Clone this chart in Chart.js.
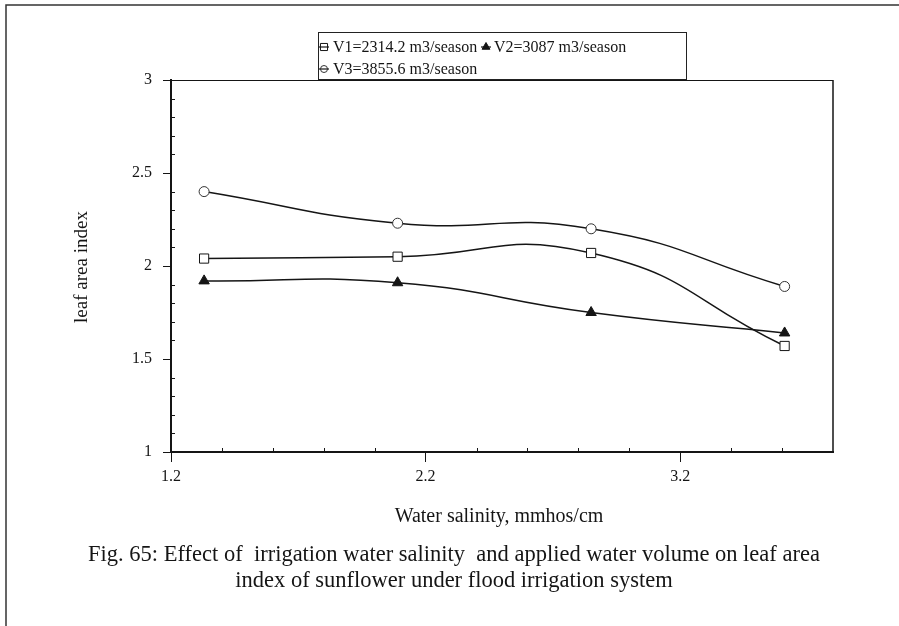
<!DOCTYPE html>
<html>
<head>
<meta charset="utf-8">
<title>Leaf area index vs water salinity</title>
<script src="https://cdn.jsdelivr.net/npm/chart.js@4.4.1/dist/chart.umd.min.js"></script>
<style>
  html, body { margin: 0; padding: 0; background: #fff; }
  canvas { display: block; }
</style>
</head>
<body>
<canvas id="laiChart" width="899" height="626"></canvas>
<script>
// Water salinity (mmhos/cm) and leaf area index per applied water volume
const salinity = [1.33, 2.09, 2.85, 3.61];
const laiV1 = [2.04, 2.05, 2.07, 1.57];
const laiV2 = [1.92, 1.91, 1.75, 1.64];
const laiV3 = [2.40, 2.23, 2.20, 1.89];
const seriesLabels = ['V1=2314.2 m3/season', 'V2=3087 m3/season', 'V3=3855.6 m3/season'];
const xTickValues = [1.2, 2.2, 3.2];
const yTickValues = [1, 1.5, 2, 2.5, 3];

const INK = '#151515';
const SERIF = '"Liberation Serif", "Times New Roman", serif';

function toPoints(ys) {
    return salinity.map((x, i) => ({ x: x, y: ys[i] }));
}

// frame, minor ticks, legend box, axis titles and caption
const figureText = {
    id: 'figureText',
    beforeDraw(chart) {
        const ctx = chart.ctx;
        ctx.save();
        ctx.fillStyle = '#fff';
        ctx.fillRect(0, 0, chart.width, chart.height);
        // page border (top and left)
        ctx.strokeStyle = '#333';
        ctx.lineWidth = 1.5;
        ctx.beginPath();
        ctx.moveTo(6, 626);
        ctx.lineTo(6, 5);
        ctx.lineTo(899, 5);
        ctx.stroke();
        ctx.restore();
    },
    afterDraw(chart) {
        const ctx = chart.ctx;
        const area = chart.chartArea;
        const xs = chart.scales.x;
        const ys = chart.scales.y;
        ctx.save();

        // top and right edges of the plot box
        ctx.strokeStyle = INK;
        ctx.lineWidth = 1;
        ctx.beginPath();
        ctx.moveTo(area.left, area.top + 0.5);
        ctx.lineTo(area.right, area.top + 0.5);
        ctx.stroke();
        ctx.lineWidth = 1.5;
        ctx.beginPath();
        ctx.moveTo(area.right, area.top);
        ctx.lineTo(area.right, area.bottom);
        ctx.stroke();

        // minor ticks pointing into the plot
        ctx.lineWidth = 1;
        ctx.beginPath();
        for (let i = 1; i < 13; i++) {
            if (i % 5 === 0) continue;
            const px = Math.round(xs.getPixelForValue(1.2 + i * 0.2)) + 0.5;
            ctx.moveTo(px, area.bottom);
            ctx.lineTo(px, area.bottom - 4);
        }
        for (let i = 1; i < 20; i++) {
            if (i % 5 === 0) continue;
            const py = Math.round(ys.getPixelForValue(1 + i * 0.1)) + 0.5;
            ctx.moveTo(area.left, py);
            ctx.lineTo(area.left + 4, py);
        }
        ctx.stroke();

        // legend box
        ctx.lineWidth = 1;
        ctx.strokeStyle = '#222';
        ctx.strokeRect(318.5, 32.5, 368, 47);
        const items = [
            { ds: 0, mx: 324, tx: 333, y: 47 },
            { ds: 1, mx: 486, tx: 494, y: 47 },
            { ds: 2, mx: 324, tx: 333, y: 69 }
        ];
        ctx.font = '16px ' + SERIF;
        ctx.textBaseline = 'middle';
        ctx.textAlign = 'left';
        items.forEach(it => {
            const ds = chart.data.datasets[it.ds];
            ctx.strokeStyle = INK;
            ctx.lineWidth = 1.2;
            ctx.beginPath();
            ctx.moveTo(it.mx - 5, it.y);
            ctx.lineTo(it.mx + 5, it.y);
            ctx.stroke();
            // hollow legend symbols let the line show through
            ctx.fillStyle = ds.pointStyle === 'triangle' ? INK : 'rgba(0,0,0,0)';
            ctx.strokeStyle = ds.pointBorderColor;
            ctx.lineWidth = 1;
            Chart.helpers.drawPoint(ctx, {
                pointStyle: ds.pointStyle,
                radius: ds.pointRadius - 1.5,
                rotation: 0,
                borderWidth: 1
            }, it.mx, it.y);
            ctx.fillStyle = INK;
            ctx.fillText(ds.label, it.tx, it.y + 1);
        });

        ctx.fillStyle = INK;
        ctx.textAlign = 'center';
        ctx.textBaseline = 'middle';

        // axis titles
        ctx.font = '20px ' + SERIF;
        ctx.fillText('Water salinity, mmhos/cm', 499, 517);
        ctx.save();
        ctx.translate(82, 267);
        ctx.rotate(-Math.PI / 2);
        ctx.font = '19px ' + SERIF;
        ctx.fillText('leaf area index', 0, 0);
        ctx.restore();

        // figure caption
        ctx.font = '22.5px ' + SERIF;
        ctx.fillText('Fig. 65: Effect of  irrigation water salinity  and applied water volume on leaf area', 454, 555);
        ctx.fillText('index of sunflower under flood irrigation system', 454, 581);

        ctx.restore();
    }
};

new Chart(document.getElementById('laiChart'), {
    type: 'line',
    data: {
        datasets: [
            {
                label: seriesLabels[0],
                data: toPoints(laiV1),
                pointStyle: 'rect',
                pointRadius: 6.5,
                pointBackgroundColor: '#fff',
                pointBorderColor: INK
            },
            {
                label: seriesLabels[1],
                data: toPoints(laiV2),
                pointStyle: 'triangle',
                pointRadius: 6,
                pointBackgroundColor: INK,
                pointBorderColor: INK
            },
            {
                label: seriesLabels[2],
                data: toPoints(laiV3),
                pointStyle: 'circle',
                pointRadius: 5,
                pointBackgroundColor: '#fff',
                pointBorderColor: '#333'
            }
        ].map(ds => Object.assign(ds, {
            borderColor: INK,
            borderWidth: 1.5,
            tension: 0.5,
            fill: false,
            pointBorderWidth: 1,
            pointHoverRadius: ds.pointRadius
        }))
    },
    options: {
        responsive: false,
        animation: false,
        events: [],
        layout: {
            padding: { left: 0, top: 80, right: 66, bottom: 134 }
        },
        plugins: {
            legend: { display: false },
            tooltip: { enabled: false }
        },
        scales: {
            x: {
                type: 'linear',
                min: 1.2,
                max: 3.8,
                afterBuildTicks: scale => {
                    scale.ticks = xTickValues.map(v => ({ value: v }));
                },
                afterFit: scale => { scale.height = 40; },
                grid: { drawOnChartArea: false, tickLength: 10, color: INK, lineWidth: 1 },
                border: { display: true, color: INK, width: 2 },
                ticks: {
                    autoSkip: false,
                    maxRotation: 0,
                    padding: 5,
                    color: INK,
                    font: { family: SERIF, size: 16 },
                    callback: v => v.toFixed(1)
                }
            },
            y: {
                type: 'linear',
                min: 1,
                max: 3,
                afterBuildTicks: scale => {
                    scale.ticks = yTickValues.map(v => ({ value: v }));
                },
                afterFit: scale => { scale.width = 171; },
                grid: { drawOnChartArea: false, tickLength: 8, color: INK, lineWidth: 1 },
                border: { display: true, color: INK, width: 2 },
                ticks: {
                    padding: 11,
                    color: INK,
                    font: { family: SERIF, size: 16 },
                    callback: v => String(v)
                }
            }
        }
    },
    plugins: [figureText]
});
</script>
</body>
</html>
